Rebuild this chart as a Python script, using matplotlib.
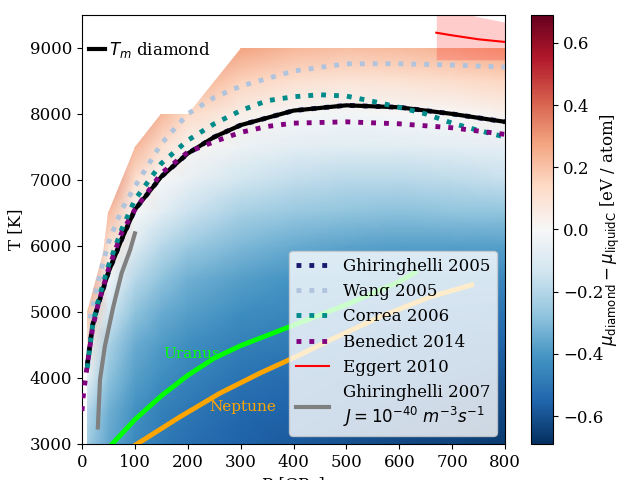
import numpy as np
import matplotlib
matplotlib.use('Agg')
import matplotlib.pyplot as plt
from matplotlib.patches import Polygon

plt.rcParams['font.family'] = 'DejaVu Serif'
plt.rcParams['font.size'] = 12

# chemical potential difference grid (eV/atom)
grid_P = [10, 50, 100, 150, 200, 300, 400, 500, 600, 700, 800]
grid_T = [3000, 3500, 4000, 4500, 5000, 5500, 6000, 6500, 7000, 7500, 8000, 8500, 9000]
dmu = [
    [-0.24, -0.36, -0.44, -0.49, -0.52, -0.56, -0.58, -0.60, -0.62, -0.64, -0.66],
    [-0.19, -0.33, -0.42, -0.47, -0.50, -0.54, -0.56, -0.58, -0.60, -0.62, -0.63],
    [-0.05, -0.28, -0.38, -0.43, -0.46, -0.51, -0.53, -0.55, -0.56, -0.58, -0.60],
    [0.07, -0.22, -0.34, -0.39, -0.43, -0.47, -0.49, -0.51, -0.53, -0.54, -0.56],
    [0.19, -0.12, -0.28, -0.34, -0.38, -0.43, -0.45, -0.47, -0.49, -0.50, -0.51],
    [0.31, -0.02, -0.19, -0.28, -0.33, -0.38, -0.41, -0.42, -0.44, -0.45, -0.45],
    [0.35, 0.10, -0.09, -0.19, -0.25, -0.31, -0.35, -0.37, -0.38, -0.38, -0.38],
    [0.35, 0.22, -0.01, -0.08, -0.15, -0.23, -0.26, -0.28, -0.29, -0.28, -0.28],
    [0.35, 0.34, 0.11, -0.01, -0.05, -0.13, -0.17, -0.19, -0.19, -0.18, -0.16],
    [0.35, 0.35, 0.23, 0.11, 0.02, -0.04, -0.07, -0.08, -0.08, -0.07, -0.06],
    [0.35, 0.35, 0.35, 0.23, 0.14, 0.04, -0.01, -0.02, -0.01, 0.00, 0.03],
    [0.35, 0.35, 0.35, 0.35, 0.26, 0.16, 0.11, 0.09, 0.10, 0.12, 0.15],
    [0.35, 0.35, 0.35, 0.35, 0.35, 0.28, 0.23, 0.21, 0.22, 0.24, 0.27],
]
# extent of the computed region
edge_P = [10, 10, 40, 50, 100, 150, 200, 300, 800, 800]
edge_T = [3000, 5000, 5900, 6500, 7500, 8000, 8000, 9000, 9000, 3000]

tm_P = [10, 20, 30, 50, 75, 100, 150, 200, 250, 300, 400, 500, 600, 700, 800]
tm_T = [4200, 4800, 5100, 5600, 6100, 6550, 7050, 7400, 7650, 7830, 8050, 8130, 8100, 8000, 7880]

wang_P = [15, 25, 35, 50, 75, 100, 150, 200, 250, 300, 400, 500, 600, 700, 800]
wang_T = [4900, 5250, 5600, 6050, 6550, 6900, 7550, 8000, 8250, 8420, 8650, 8760, 8760, 8740, 8710]

correa_P = [10, 20, 30, 50, 75, 100, 150, 200, 250, 300, 350, 400, 450, 500, 550, 600, 650, 700, 750, 800]
correa_T = [4150, 4800, 5150, 5700, 6250, 6700, 7250, 7600, 7850, 8050, 8200, 8260, 8290, 8270, 8190, 8100, 8000, 7860, 7750, 7650]

benedict_P = [0, 2, 5, 10, 20, 30, 50, 75, 100, 150, 200, 250, 300, 350, 400, 500, 600, 700, 800]
benedict_T = [3500, 3700, 3900, 4200, 4750, 5100, 5650, 6200, 6550, 7100, 7420, 7580, 7720, 7810, 7860, 7880, 7850, 7790, 7690]

eggert_P = [670, 700, 750, 800]
eggert_T = [9230, 9190, 9130, 9090]
eggert_lo = [8820, 8820, 8820, 8820]
eggert_hi = [9640, 9560, 9470, 9390]

nucl_P = [30, 34, 43, 59, 75, 91, 100]
nucl_T = [3250, 3970, 4470, 5075, 5590, 5940, 6190]

uranus_P = [57, 100, 150, 200, 250, 300, 400, 500, 600, 630]
uranus_T = [3000, 3370, 3730, 4040, 4300, 4490, 4800, 5110, 5460, 5600]

neptune_P = [100, 185, 261, 337, 412, 469, 563, 658, 737]
neptune_T = [2980, 3410, 3770, 4075, 4350, 4575, 4924, 5227, 5410]

fig = plt.figure(figsize=(6.18, 4.8), dpi=100)
ax = fig.add_axes([0.1327, 0.075, 0.6845, 0.894])
cax = fig.add_axes([0.859, 0.075, 0.036, 0.894])

mesh = ax.pcolormesh(grid_P, grid_T, np.array(dmu), shading='gouraud',
                     cmap='RdBu_r', vmin=-0.69, vmax=0.69, zorder=0)
region = Polygon(np.column_stack([edge_P, edge_T]), closed=True,
                 transform=ax.transData, facecolor='none', edgecolor='none')
mesh.set_clip_path(region)

ax.fill_between(eggert_P, eggert_lo, eggert_hi, color='red', alpha=0.2, lw=0)
ax.plot(eggert_P, eggert_T, color='red', lw=1.5, label='Eggert 2010', zorder=4)

ax.plot(tm_P, tm_T, ':', color='midnightblue', lw=3.5, label='Ghiringhelli 2005', zorder=2)
tm_line, = ax.plot(tm_P, tm_T, '-', color='black', lw=3, zorder=3)
ax.plot(wang_P, wang_T, ':', color='lightsteelblue', lw=3.5, label='Wang 2005', zorder=4)
ax.plot(correa_P, correa_T, ':', color='darkcyan', lw=3.5, label='Correa 2006', zorder=4)
ax.plot(benedict_P, benedict_T, ':', color='purple', lw=3.5, label='Benedict 2014', zorder=4)

ax.plot(nucl_P, nucl_T, color='gray', lw=3, zorder=4,
        label='Ghiringhelli 2007\n$J=10^{-40}\\ m^{-3}s^{-1}$')

ax.plot(uranus_P, uranus_T, color='lime', lw=3.5, zorder=3)
ax.plot(neptune_P, neptune_T, color='orange', lw=3.5, zorder=3)
ax.text(153, 4300, 'Uranus', color='lime', fontsize=11)
ax.text(240, 3500, 'Neptune', color='orange', fontsize=11)

handles, labels = ax.get_legend_handles_labels()
order = [1, 2, 3, 4, 0, 5]
leg = ax.legend([handles[i] for i in order], [labels[i] for i in order],
                loc='lower right', fontsize=12)
leg2 = ax.legend([tm_line], ['$T_m$ diamond'], loc='upper left', frameon=False,
                 handlelength=1.0, handletextpad=0.2, borderaxespad=0,
                 bbox_to_anchor=(0, 0.958))
ax.add_artist(leg)

ax.set_xlim(0, 800)
ax.set_ylim(3000, 9500)
ax.set_xlabel('P [GPa]')
ax.set_ylabel('T [K]')

cb = fig.colorbar(mesh, cax=cax)
cb.set_label('$\\mu_{\\rm diamond} - \\mu_{\\rm liquidC}$ [eV / atom]', labelpad=-3)

fig.savefig('out.png', dpi=100)
